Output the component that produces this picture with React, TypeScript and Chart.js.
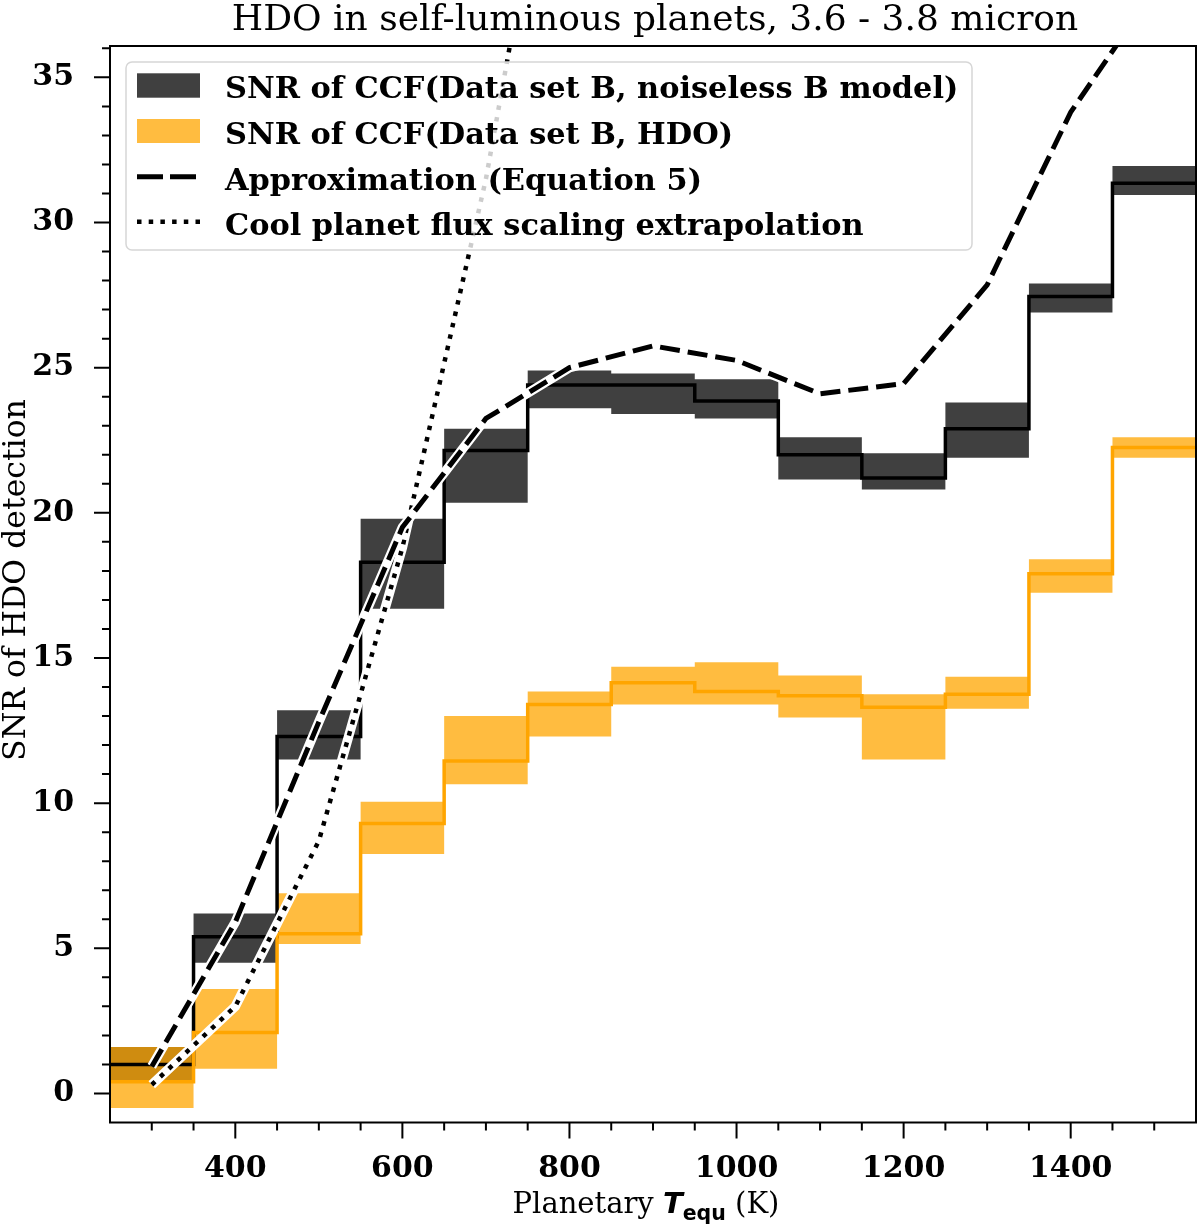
import { useEffect, useRef } from "react";
import { Chart, registerables, type ChartConfiguration, type Plugin } from "chart.js";

Chart.register(...registerables);

// temperature bins (K)
const binEdges = [250, 350, 450, 550, 650, 750, 850, 950, 1050, 1150, 1250, 1350, 1450, 1550];
const binCenters = [300, 400, 500, 600, 700, 800, 900, 1000, 1100, 1200, 1300, 1400, 1500];

// SNR of CCF, data set B vs noiseless B model
const snrModel = [1.0, 5.4, 12.3, 18.3, 22.15, 24.4, 24.4, 23.85, 22.0, 21.2, 22.9, 27.45, 31.35];
const snrModelLow = [0.4, 4.5, 11.5, 16.7, 20.35, 23.6, 23.4, 23.25, 21.15, 20.8, 21.9, 26.9, 30.95];
const snrModelHigh = [1.6, 6.2, 13.2, 19.8, 22.9, 24.9, 24.8, 24.6, 22.6, 22.05, 23.8, 27.9, 31.95];

// SNR of CCF, data set B vs HDO
const snrHdo = [0.4, 2.1, 5.5, 9.3, 11.45, 13.4, 14.15, 13.85, 13.7, 13.3, 13.75, 17.9, 22.25];
const snrHdoLow = [-0.5, 0.85, 5.15, 8.25, 10.65, 12.3, 13.4, 13.4, 12.95, 11.5, 13.25, 17.25, 21.9];
const snrHdoHigh = [1.6, 3.6, 6.9, 10.05, 13.0, 13.85, 14.7, 14.85, 14.4, 13.75, 14.35, 18.4, 22.6];

// approximation (Equation 5), at bin centres
const approxSnr = [0.93, 5.9, 12.8, 19.5, 23.25, 25.0, 25.75, 25.25, 24.1, 24.45, 27.85, 33.8, 38.0];

// cool planet flux scaling extrapolation
const coolTemps = [300, 400, 500, 600, 700, 800];
const coolSnr = [0.3, 3.0, 8.7, 18.8, 31.5, 47.5];

const xMajorTicks = [400, 600, 800, 1000, 1200, 1400];
const yMajorTicks = [0, 5, 10, 15, 20, 25, 30, 35];

const legendLabels = [
  "SNR of CCF(Data set B, noiseless B model)",
  "SNR of CCF(Data set B, HDO)",
  "Approximation (Equation 5)",
  "Cool planet flux scaling extrapolation",
];
const titleText = "HDO in self-luminous planets, 3.6 - 3.8 micron";
const yLabel = "SNR of HDO detection";

const SERIF = '"DejaVu Serif"';
const SANS = '"DejaVu Sans"';
const GREY_BAND = "rgba(0,0,0,0.75)";
const ORANGE_BAND = "rgba(255,165,0,0.75)";
const ORANGE = "rgb(255,165,0)";

// histogram-style points: one per bin edge, last value repeated
const stepPoints = (values: number[]) =>
  binEdges.map((x, i) => ({ x, y: values[Math.min(i, values.length - 1)] }));

const decorations: Plugin<"line"> = {
  id: "decorations",
  afterDraw(chart) {
    const { ctx, chartArea: a } = chart;
    const xs = chart.scales.x;
    const ys = chart.scales.y;
    ctx.save();

    // tick marks
    ctx.strokeStyle = "#000";
    ctx.lineWidth = 2;
    ctx.setLineDash([]);
    ctx.beginPath();
    for (let v = 250; v <= 1550; v += 50) {
      const px = xs.getPixelForValue(v);
      if (px <= a.left + 1 || px >= a.right - 1) continue;
      const len = xMajorTicks.includes(v) ? 16 : 8;
      ctx.moveTo(px, a.bottom);
      ctx.lineTo(px, a.bottom + len);
    }
    for (let v = -1; v <= 36; v += 1) {
      const py = ys.getPixelForValue(v);
      if (py >= a.bottom - 1 || py <= a.top + 1) continue;
      const len = yMajorTicks.includes(v) ? 16 : 8;
      ctx.moveTo(a.left, py);
      ctx.lineTo(a.left - len, py);
    }
    ctx.stroke();

    // frame
    ctx.strokeRect(a.left, a.top, a.right - a.left, a.bottom - a.top);

    // title
    ctx.fillStyle = "#000";
    ctx.font = `36px ${SERIF}`;
    ctx.textAlign = "center";
    ctx.textBaseline = "alphabetic";
    ctx.fillText(titleText, 655, 30);

    // y label
    ctx.save();
    ctx.translate(25, 580);
    ctx.rotate(-Math.PI / 2);
    ctx.font = `31.5px ${SERIF}`;
    ctx.fillText(yLabel, 0, 0);
    ctx.restore();

    // x label: Planetary T_equ (K)
    const base = 1213;
    const parts = [
      { t: "Planetary ", f: `29px ${SERIF}`, dy: 0 },
      { t: "T", f: `italic bold 29px ${SANS}`, dy: 0 },
      { t: "equ", f: `bold 20.5px ${SANS}`, dy: 6.5 },
      { t: " (K)", f: `29px ${SERIF}`, dy: 0 },
    ];
    let total = 0;
    for (const p of parts) {
      ctx.font = p.f;
      total += ctx.measureText(p.t).width;
    }
    let cx = 646 - total / 2;
    ctx.textAlign = "left";
    for (const p of parts) {
      ctx.font = p.f;
      ctx.fillText(p.t, cx, base + p.dy);
      cx += ctx.measureText(p.t).width;
    }

    // legend
    const lx = 126, ly = 62, lw = 846, lh = 188;
    ctx.beginPath();
    ctx.roundRect(lx, ly, lw, lh, 6);
    ctx.fillStyle = "rgba(255,255,255,0.8)";
    ctx.fill();
    ctx.strokeStyle = "#d6d6d6";
    ctx.lineWidth = 1.5;
    ctx.stroke();

    const rowY = [85.5, 131, 176.7, 221.7];
    ctx.fillStyle = GREY_BAND;
    ctx.fillRect(137, rowY[0] - 12.2, 63, 24.4);
    ctx.fillStyle = ORANGE_BAND;
    ctx.fillRect(137, rowY[1] - 12, 63, 24);

    ctx.strokeStyle = "#000";
    ctx.lineWidth = 5;
    ctx.setLineDash([26, 7]);
    ctx.beginPath();
    ctx.moveTo(137, rowY[2]);
    ctx.lineTo(200, rowY[2]);
    ctx.stroke();
    ctx.lineWidth = 4.5;
    ctx.setLineDash([4.5, 7.2]);
    ctx.beginPath();
    ctx.moveTo(137, rowY[3]);
    ctx.lineTo(200, rowY[3]);
    ctx.stroke();
    ctx.setLineDash([]);

    ctx.fillStyle = "#000";
    ctx.font = `bold 30.4px ${SERIF}`;
    ctx.textAlign = "left";
    legendLabels.forEach((label, i) => ctx.fillText(label, 225, rowY[i] + 12.8));

    ctx.restore();
  },
};

export default function App() {
  const canvasRef = useRef<HTMLCanvasElement | null>(null);
  const chartRef = useRef<Chart<"line"> | null>(null);

  useEffect(() => {
    const el = canvasRef.current;
    if (!el) return;
    chartRef.current?.destroy();

    const hidden = { borderColor: "transparent", borderWidth: 0, pointRadius: 0, stepped: true as const, fill: false };

    const cfg: ChartConfiguration<"line"> = {
      type: "line",
      data: {
        datasets: [
          { ...hidden, label: "model low", data: stepPoints(snrModelLow), order: 11 },
          {
            ...hidden,
            label: "model high",
            data: stepPoints(snrModelHigh),
            fill: { target: 0 },
            backgroundColor: GREY_BAND,
            order: 10,
          },
          { ...hidden, label: "hdo low", data: stepPoints(snrHdoLow), order: 9 },
          {
            ...hidden,
            label: "hdo high",
            data: stepPoints(snrHdoHigh),
            fill: { target: 2 },
            backgroundColor: ORANGE_BAND,
            order: 8,
          },
          {
            label: legendLabels[0],
            data: stepPoints(snrModel),
            stepped: true,
            borderColor: "#000",
            borderWidth: 3.5,
            borderJoinStyle: "miter",
            pointRadius: 0,
            fill: false,
            order: 6,
          },
          {
            label: legendLabels[1],
            data: stepPoints(snrHdo),
            stepped: true,
            borderColor: ORANGE,
            borderWidth: 3.5,
            borderJoinStyle: "miter",
            pointRadius: 0,
            fill: false,
            order: 5,
          },
          {
            label: "cool outline",
            data: coolTemps.map((x, i) => ({ x, y: coolSnr[i] })),
            borderColor: "#fff",
            borderWidth: 9.5,
            pointRadius: 0,
            fill: false,
            order: 4,
          },
          {
            label: legendLabels[3],
            data: coolTemps.map((x, i) => ({ x, y: coolSnr[i] })),
            borderColor: "#000",
            borderWidth: 4.5,
            borderDash: [4.5, 7.2],
            pointRadius: 0,
            fill: false,
            order: 3,
          },
          {
            label: "approx outline",
            data: binCenters.map((x, i) => ({ x, y: approxSnr[i] })),
            borderColor: "#fff",
            borderWidth: 9.5,
            pointRadius: 0,
            fill: false,
            order: 2,
          },
          {
            label: legendLabels[2],
            data: binCenters.map((x, i) => ({ x, y: approxSnr[i] })),
            borderColor: "#000",
            borderWidth: 5,
            borderDash: [20, 8],
            pointRadius: 0,
            fill: false,
            order: 1,
          },
        ].map((d) => ({ ...d, clip: 0, tension: 0 })) as any,
      },
      options: {
        animation: false,
        responsive: false,
        events: [],
        layout: { padding: { top: 45, right: 4, left: 0, bottom: 0 } },
        plugins: {
          legend: { display: false },
          title: { display: false },
          tooltip: { enabled: false },
        },
        scales: {
          x: {
            type: "linear",
            min: 250,
            max: 1550,
            grid: { display: false },
            border: { display: false },
            afterBuildTicks: (s) => {
              s.ticks = xMajorTicks.map((value) => ({ value }));
            },
            afterFit: (s) => {
              s.height = 106.5;
            },
            ticks: {
              color: "#000",
              font: { family: SERIF, weight: "bold", size: 30 },
              padding: 21,
              maxRotation: 0,
              autoSkip: false,
              callback: (v) => String(v),
            },
          },
          y: {
            type: "linear",
            min: -1,
            max: 36.08,
            grid: { display: false },
            border: { display: false },
            afterBuildTicks: (s) => {
              s.ticks = yMajorTicks.map((value) => ({ value }));
            },
            afterFit: (s) => {
              s.width = 110;
            },
            ticks: {
              color: "#000",
              font: { family: SERIF, weight: "bold", size: 30 },
              padding: 28,
              autoSkip: false,
              callback: (v) => String(v),
            },
          },
        },
      },
      plugins: [decorations],
    };

    chartRef.current = new Chart(el, cfg);
    return () => {
      chartRef.current?.destroy();
      chartRef.current = null;
    };
  }, []);

  return (
    <div style={{ position: "absolute", left: 0, top: 0, width: 1200, height: 1229, background: "#fff" }}>
      <canvas ref={canvasRef} width={1200} height={1229} style={{ display: "block" }} />
    </div>
  );
}
